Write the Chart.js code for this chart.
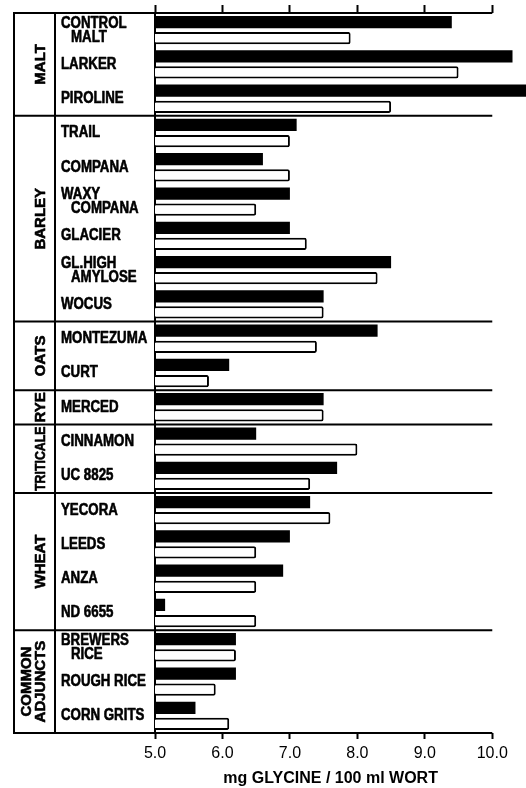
<!DOCTYPE html>
<html lang="en">
<head>
<meta charset="UTF-8">
<title>Glycine in wort</title>
<script src="https://cdn.jsdelivr.net/npm/chart.js"></script>
<style>
  html, body { margin: 0; padding: 0; background: #fff; }
  #chart-container { width: 526px; height: 788px; }
</style>
</head>
<body>
<div id="chart-container"><canvas id="glycine"></canvas></div>
<script>
// variety labels, two-line names as arrays
const varieties = [
  ['CONTROL', 'MALT'], 'LARKER', 'PIROLINE',
  'TRAIL', 'COMPANA', ['WAXY', 'COMPANA'], 'GLACIER', ['GL.HIGH', 'AMYLOSE'], 'WOCUS',
  'MONTEZUMA', 'CURT',
  'MERCED',
  'CINNAMON', 'UC 8825',
  'YECORA', 'LEEDS', 'ANZA', 'ND 6655',
  ['BREWERS', 'RICE'], 'ROUGH RICE', 'CORN GRITS'
];
const groupNames = ['MALT', 'BARLEY', 'OATS', 'RYE', 'TRITICALE', 'WHEAT', ['COMMON', 'ADJUNCTS']];
const groupSizes = [3, 6, 2, 1, 2, 4, 3];

// black bars (upper) and open bars (lower)
const solidValues = [9.4, 10.3, 10.5, 7.1, 6.6, 7.0, 7.0, 8.5, 7.5, 8.3, 6.1, 7.5, 6.5, 7.7, 7.3, 7.0, 6.9, 5.15, 6.2, 6.2, 5.6];
const openValues  = [7.9, 9.5, 8.5, 7.0, 7.0, 6.5, 7.25, 8.3, 7.5, 7.4, 5.8, 7.5, 8.0, 7.3, 7.6, 6.5, 6.5, 6.5, 6.2, 5.9, 6.1];

const xTicks = [5, 6, 7, 8, 9, 10];
const xTickLabels = ['5.0', '6.0', '7.0', '8.0', '9.0', '10.0'];
const xTitle = 'mg GLYCINE / 100 ml WORT';

const plainFont = "'Liberation Sans', Arial, sans-serif";

// box lines, variety + group names and the axis title
const panelPlugin = {
  id: 'panel',
  afterDraw(chart) {
    const { ctx, chartArea, scales } = chart;
    const x = scales.x, y = scales.y;
    const boxLeft = 14, divider = 55, labelLeft = 61;
    const right = x.getPixelForValue(10);
    const half = (y.getPixelForValue(1) - y.getPixelForValue(0)) / 2;

    ctx.save();
    ctx.strokeStyle = '#000';
    ctx.lineWidth = 2;

    const rules = [chartArea.top];
    let idx = 0;
    groupSizes.forEach(n => { idx += n; rules.push(y.getPixelForValue(idx - 1) + half); });
    rules.forEach(ry => {
      ctx.beginPath();
      ctx.moveTo(boxLeft - 1, ry);
      ctx.lineTo(right, ry);
      ctx.stroke();
    });
    [boxLeft, divider].forEach(vx => {
      ctx.beginPath();
      ctx.moveTo(vx, chartArea.top);
      ctx.lineTo(vx, chartArea.bottom);
      ctx.stroke();
    });

    ctx.fillStyle = '#000';
    ctx.textBaseline = 'middle';
    ctx.lineJoin = 'round';

    // variety names: tall, narrow, heavy type
    ctx.font = 'bold 16px ' + plainFont;
    ctx.textAlign = 'left';
    ctx.lineWidth = 0.6;
    varieties.forEach((name, i) => {
      const cy = y.getPixelForValue(i);
      const lines = Array.isArray(name) ? name : [name];
      lines.forEach((t, j) => {
        const off = (j - (lines.length - 1) / 2) * 14;
        ctx.save();
        ctx.translate(labelLeft + (j > 0 ? 10 : 0), cy + off);
        ctx.scale(0.83, 1);
        ctx.fillText(t, 0, 0);
        ctx.strokeText(t, 0, 0);
        ctx.restore();
      });
    });

    // group names, rotated
    ctx.font = 'bold 15px ' + plainFont;
    ctx.textAlign = 'center';
    for (let g = 0; g < groupNames.length; g++) {
      const top = rules[g], bottom = rules[g + 1];
      const cy = (top + bottom) / 2;
      const lines = Array.isArray(groupNames[g]) ? groupNames[g] : [groupNames[g]];
      ctx.save();
      ctx.translate(lines.length > 1 ? 34 : 41, cy);
      ctx.rotate(-Math.PI / 2);
      lines.forEach((t, i) => {
        const off = (i - (lines.length - 1) / 2) * 14;
        ctx.fillText(t, 0, off, bottom - top - 4);
        ctx.strokeText(t, 0, off, bottom - top - 4);
      });
      ctx.restore();
    }

    ctx.font = 'bold 16px ' + plainFont;
    ctx.textBaseline = 'alphabetic';
    const cx = (x.getPixelForValue(5) + x.getPixelForValue(10)) / 2 + 7;
    ctx.fillText(xTitle, cx, 783);
    ctx.restore();
  }
};

const axisX = {
  type: 'linear',
  min: 5,
  max: 10.5,
  afterBuildTicks: s => { s.ticks = xTicks.map(v => ({ value: v })); }
};

new Chart(document.getElementById('glycine'), {
  type: 'bar',
  data: {
    labels: varieties,
    datasets: [
      {
        data: solidValues,
        backgroundColor: '#000',
        borderWidth: 0
      },
      {
        data: openValues,
        backgroundColor: '#fff',
        borderColor: '#000',
        borderWidth: 2,
        borderRadius: 2,
        borderSkipped: 'start'
      }
    ]
  },
  options: {
    indexAxis: 'y',
    responsive: true,
    maintainAspectRatio: false,
    animation: false,
    categoryPercentage: 0.94,
    barPercentage: 0.76,
    layout: { padding: { left: 61, top: 5, right: 0, bottom: 0 } },
    scales: {
      x: {
        ...axisX,
        position: 'bottom',
        afterFit: s => { s.height = 55; },
        grid: { drawOnChartArea: false, drawTicks: true, tickLength: 6, tickWidth: 2, tickColor: '#000' },
        border: { display: false },
        ticks: {
          color: '#000',
          padding: 5,
          font: { family: plainFont, size: 16 },
          callback: (v, i) => xTickLabels[i]
        }
      },
      x2: {
        ...axisX,
        position: 'top',
        afterFit: s => { s.height = 8; },
        grid: { drawOnChartArea: false, drawTicks: true, tickLength: 8, tickWidth: 2, tickColor: '#000' },
        border: { display: false },
        ticks: { display: false }
      },
      y: {
        afterFit: s => { s.width = 94; },
        grid: { display: false },
        border: { display: true, color: '#000', width: 2 },
        ticks: { display: false }
      }
    },
    plugins: {
      legend: { display: false },
      tooltip: { enabled: false },
      title: { display: false }
    }
  },
  plugins: [panelPlugin]
});
</script>
</body>
</html>
